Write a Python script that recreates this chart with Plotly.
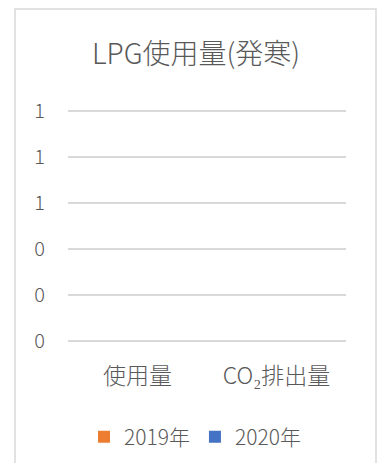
import plotly.graph_objects as go

categories = ["使用量", "CO₂排出量"]
series_names = ["2019年", "2020年"]
values_2019 = [0, 0]
values_2020 = [0, 0]
colors = ["#ED7D31", "#4472C4"]
y_tickvals = [0, 0.2, 0.4, 0.6, 0.8, 1.0]

FONT = "Noto Sans CJK JP"
TXT = "#595959"

fig = go.Figure()
for name, vals, col in zip(series_names, [values_2019, values_2020], colors):
    fig.add_trace(go.Bar(x=categories, y=vals, name=name, marker_color=col,
                         marker_line_width=0))

W, H = 379, 463
YMAX = 1.02
L, R, B = 68, 33, 122
T = round(H - B - 230 * YMAX)
pw, ph = W - L - R, H - T - B

def px_x(v):
    return (v - L) / pw

def px_y(v):
    return (H - B - v) / ph

fig.update_layout(
    width=W, height=H,
    margin=dict(l=L, r=R, t=T, b=B, autoexpand=False),
    paper_bgcolor="white", plot_bgcolor="white",
    font=dict(family=FONT, color=TXT),
    title=dict(text="LPG使用量(発寒)", x=196 / W, xanchor="center",
               y=1 - 54 / H, yanchor="middle",
               font=dict(size=28, color=TXT, family=FONT, weight=300)),
    barmode="group",
    showlegend=True,
    legend=dict(orientation="h", xref="container", yref="container",
                x=195 / W, xanchor="center",
                y=(H - 437) / H, yanchor="middle",
                font=dict(size=21, color=TXT, family=FONT, weight=300),
                itemwidth=30, bgcolor="rgba(0,0,0,0)"),
    shapes=[dict(type="rect", xref="paper", yref="paper",
                 x0=px_x(15), x1=px_x(376), y0=px_y(480), y1=px_y(9),
                 line=dict(color="#d9d9d9", width=1.5), layer="below")],
)
fig.update_xaxes(showgrid=False, showline=False, zeroline=False, automargin=False,
                 tickfont=dict(size=23, color=TXT, family=FONT, weight=300),
                 ticklabelstandoff=19)
fig.update_yaxes(range=[0, YMAX], tickvals=y_tickvals, tickformat=".0f",
                 automargin=False,
                 showgrid=True, gridcolor="#d9d9d9", gridwidth=1.5,
                 zeroline=True, zerolinecolor="#d9d9d9", zerolinewidth=1.5,
                 showline=False,
                 tickfont=dict(size=20, color=TXT, family=FONT, weight=300),
                 ticklabelstandoff=22)

fig.write_html("out.html")
